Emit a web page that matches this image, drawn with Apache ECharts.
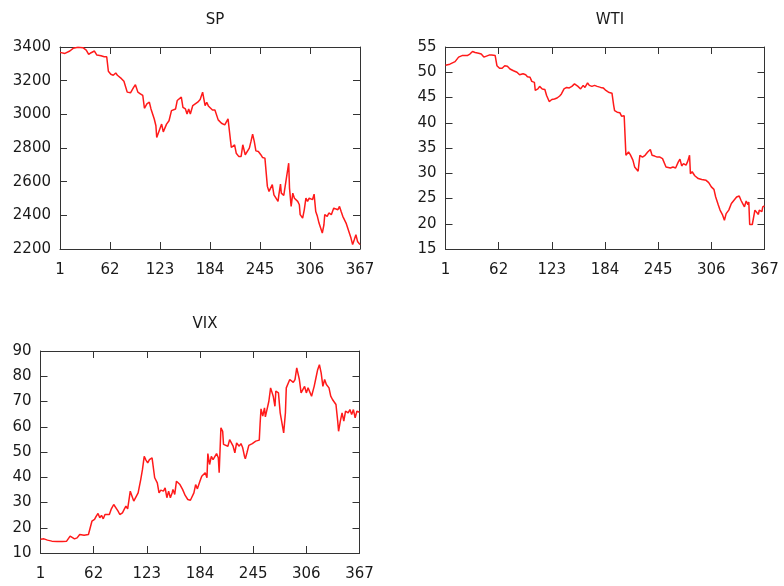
<!DOCTYPE html>
<html><head><meta charset="utf-8">
<script src="https://cdn.jsdelivr.net/npm/echarts@6/dist/echarts.min.js"></script>
<style>html,body{margin:0;padding:0;background:#fff}#c{width:784px;height:586px}</style>
</head><body><div id="c"></div>
<script>
const xTicks = [1, 62, 123, 184, 245, 306, 367];

const spDays = [1,7,13,17,23,29,33,36,39,43,46,51,55,58,60,63,66,69,71,73,76,79,83,87,91,93,96,99,102,104,107,110,112,116,118,119,122,125,127,129,131,134,137,139,142,144,146,149,151,154,156,158,160,163,166,169,172,175,178,180,182,184,187,190,192,194,196,198,200,202,204,206,208,210,211,214,216,219,222,224,227,229,232,234,236,238,240,243,246,248,251,253,254,256,258,260,262,264,267,268,270,271,274,276,278,280,281,283,285,287,289,291,293,294,297,299,301,303,305,307,309,311,313,315,317,319,321,323,324,327,329,332,335,337,340,342,344,346,348,350,352,354,356,358,360,362,364,366,367];
const spValues = [3368,3362,3376,3392,3398,3396,3382,3356,3366,3376,3352,3348,3342,3342,3256,3238,3232,3246,3232,3238,3212,3196,3132,3128,3162,3176,3132,3122,3112,3036,3062,3072,3032,2972,2932,2862,2902,2942,2896,2892,2942,2962,3022,3012,3032,3082,3072,3102,3042,3032,3002,3032,3002,3052,3062,3072,3088,3132,3052,3072,3050,3046,3026,3026,3016,2967,2957,2947,2957,2937,2927,2973,2967,2803,2795,2819,2769,2750,2750,2819,2760,2769,2799,2839,2882,2839,2783,2779,2760,2744,2740,2740,2572,2542,2532,2582,2522,2512,2483,2522,2585,2532,2518,2582,2585,2710,2562,2453,2532,2502,2493,2483,2463,2404,2384,2433,2502,2483,2502,2512,2493,2526,2423,2394,2354,2325,2295,2344,2404,2394,2414,2404,2443,2433,2433,2453,2423,2394,2384,2354,2325,2295,2265,2226,2255,2285,2245,2236,2226];

const wtiDays = [1,6,12,16,20,26,29,32,35,39,42,45,47,51,54,58,60,63,66,69,72,75,79,83,86,90,93,95,98,100,103,104,107,109,112,115,117,120,123,126,129,132,134,137,140,143,146,149,151,153,156,159,161,164,166,169,172,175,179,182,185,188,192,194,195,198,201,203,206,207,208,211,213,216,218,220,222,224,227,230,233,236,238,241,244,247,250,252,254,256,259,262,265,268,270,272,274,277,279,281,282,284,287,291,295,297,300,303,306,309,311,314,316,319,321,323,326,329,332,335,338,340,342,344,346,348,349,350,353,355,356,358,360,361,364,365,367];
const wtiValues = [51.4,51.6,52.1,53.0,53.3,53.3,53.6,54.1,53.9,53.75,53.6,53.0,53.3,53.4,53.4,53.3,51.3,50.8,50.8,51.3,51.2,50.65,50.3,50.0,49.5,49.7,49.5,49.1,49.0,48.2,48.0,46.4,46.7,47.2,46.7,46.6,45.4,44.2,44.6,44.7,44.9,45.3,45.7,46.7,47.0,46.9,47.2,47.7,48.0,47.2,46.7,47.4,47.0,47.9,47.4,47.2,47.4,47.2,47.0,46.9,46.4,46.05,45.85,43.4,42.4,42.1,42.0,41.3,41.4,41.3,33.55,34.2,33.7,32.6,31.25,30.9,30.4,33.55,33.2,33.55,34.2,34.7,33.55,33.4,33.2,33.2,32.9,32.8,31.25,31.45,31.05,31.25,31.05,32.2,32.8,31.45,31.9,31.6,32.4,33.55,29.9,30.3,29.5,28.95,28.75,28.95,28.6,28.15,27.3,26.8,25.3,23.7,22.7,21.7,20.7,22.0,22.7,24.0,24.65,25.3,25.5,24.65,24.0,23.35,24.5,23.8,24.3,19.85,19.85,19.85,22.7,22.4,21.85,22.7,22.4,23.35,23.55];

const vixDays = [1,5,9,14,20,26,31,35,37,40,43,46,48,51,53,56,58,60,63,65,67,69,71,73,75,77,80,82,85,87,90,92,95,97,99,101,103,104,106,108,110,113,115,116,118,120,122,124,126,127,129,131,132,135,137,139,142,144,146,148,150,152,153,155,157,159,161,164,167,170,173,175,177,179,181,183,184,186,188,190,192,193,195,197,199,201,203,205,206,208,210,211,213,216,218,220,222,224,226,229,231,233,235,236,238,240,242,244,246,248,250,252,253,254,256,258,259,261,263,265,267,268,270,271,273,274,276,277,279,280,282,283,285,287,289,291,293,295,296,298,300,302,304,306,308,310,312,314,315,317,319,321,323,325,327,329,331,332,334,336,338,340,342,343,345,347,349,351,352,354,356,358,360,362,364,365,367];
const vixValues = [15.4,15.6,15.1,14.7,14.6,14.6,14.7,16.7,16.2,15.6,16.0,17.35,16.7,17.0,17.75,17.35,17.35,22.6,23.3,24.6,25.65,23.95,24.9,23.55,25.25,25.9,25.25,27.25,29.2,28.6,26.6,25.25,25.9,27.25,28.6,27.5,27.9,34.5,32.5,30.55,31.2,33.8,33.6,39.1,43.1,48.3,46.8,45.7,47.0,46.4,47.7,47.0,39.8,37.8,33.8,34.9,34.5,35.8,31.9,34.5,31.9,33.8,35.2,33.2,38.45,38.45,37.1,35.2,32.8,31.2,30.9,31.45,33.8,37.1,35.4,35.8,38.5,40.4,39.8,41.75,39.8,49.4,45.05,48.3,47.0,47.7,49.4,47.7,41.75,59.55,58.2,53.0,53.6,52.3,54.9,54.3,52.3,49.7,53.6,52.3,53.35,51.65,48.35,47.3,49.9,52.6,52.0,53.35,53.0,54.3,53.9,54.7,61.5,67.1,64.2,67.5,63.9,64.2,70.1,75.4,74.7,72.1,68.1,74.1,74.7,73.4,65.5,63.5,62.85,57.6,65.5,75.4,76.0,78.7,78.4,77.6,78.7,83.3,83.95,78.7,73.4,74.7,76.0,73.4,75.4,74.7,72.1,74.7,76.0,79.3,82.6,84.6,81.3,76.0,78.7,76.7,76.3,75.4,72.1,70.8,71.0,68.8,62.2,58.2,62.2,65.5,62.2,66.15,66.8,65.5,66.8,64.8,66.8,63.5,66.15,65.5,65.75];

const FONT = 'DejaVu Sans';
const TXT = '#1a1a1a';
const AX = '#333333';

const panels = [
  {title: 'SP', days: spDays, values: spValues, min: 2200, max: 3400, interval: 200,
   grid: {left: 60, top: 47, width: 300, height: 202}},
  {title: 'WTI', days: wtiDays, values: wtiValues, min: 15, max: 55, interval: 5,
   grid: {left: 445.5, top: 47, width: 319, height: 202}},
  {title: 'VIX', days: vixDays, values: vixValues, min: 10, max: 90, interval: 10,
   grid: {left: 40.5, top: 351, width: 319, height: 202}}
];

const option = {
  animation: false,
  backgroundColor: '#ffffff',
  title: [], grid: [], xAxis: [], yAxis: [], series: []
};

panels.forEach((p, k) => {
  option.grid.push(Object.assign({containLabel: false}, p.grid));
  option.title.push({
    text: p.title,
    left: p.grid.left + p.grid.width / 2,
    top: p.grid.top - 39,
    textAlign: 'center',
    textStyle: {fontFamily: FONT, fontSize: 15, fontWeight: 'normal', color: TXT}
  });
  const tick = {show: true, inside: true, length: 7, lineStyle: {color: AX, width: 1}};
  const line = {show: true, lineStyle: {color: AX, width: 1}};
  const plain = v => String(v);
  option.xAxis.push({
    type: 'value', gridIndex: k, position: 'bottom', min: 1, max: 367, interval: 61,
    axisLine: line, axisTick: Object.assign({customValues: xTicks}, tick),
    axisLabel: {customValues: xTicks, formatter: plain, fontFamily: FONT, fontSize: 15, color: TXT, margin: 14},
    splitLine: {show: false}
  });
  option.xAxis.push({
    type: 'value', gridIndex: k, position: 'top', min: 1, max: 367, interval: 61,
    axisLine: line, axisTick: Object.assign({customValues: xTicks}, tick),
    axisLabel: {show: false, customValues: xTicks}, splitLine: {show: false}
  });
  option.yAxis.push({
    type: 'value', gridIndex: k, position: 'left', min: p.min, max: p.max, interval: p.interval,
    axisLine: line, axisTick: tick,
    axisLabel: {formatter: plain, fontFamily: FONT, fontSize: 15, color: TXT, margin: 9},
    splitLine: {show: false}
  });
  option.yAxis.push({
    type: 'value', gridIndex: k, position: 'right', min: p.min, max: p.max, interval: p.interval,
    axisLine: line, axisTick: tick, axisLabel: {show: false}, splitLine: {show: false}
  });
  option.series.push({
    type: 'line', xAxisIndex: 2 * k, yAxisIndex: 2 * k,
    data: p.days.map((d, j) => [d, p.values[j]]),
    showSymbol: false, symbol: 'none',
    lineStyle: {color: '#ff1a1a', width: 1.5}
  });
});

const chart = echarts.init(document.getElementById('c'), null, {renderer: 'canvas'});
chart.setOption(option);
</script>
</body></html>
